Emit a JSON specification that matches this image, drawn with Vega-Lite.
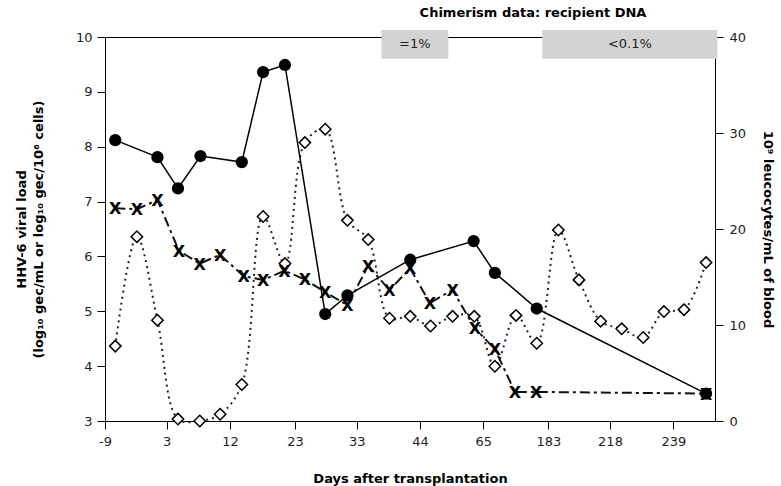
{
  "$schema": "https://vega.github.io/schema/vega-lite/v6.json",
  "width": 610,
  "height": 384,
  "autosize": {"type": "none"},
  "padding": {"left": 105, "top": 37, "right": 66, "bottom": 65},
  "config": {
    "font": "DejaVu Sans",
    "view": {"stroke": "black", "strokeWidth": 1},
    "axis": {
      "grid": false,
      "domainColor": "black",
      "tickColor": "black",
      "labelColor": "#222",
      "labelFontSize": 13,
      "titleFontSize": 13,
      "titleFontWeight": "bold",
      "titleColor": "black",
      "tickSize": 8,
      "labelPadding": 5
    }
  },
  "title": {
    "text": "Chimerism data: recipient DNA",
    "fontSize": 13,
    "fontWeight": "bold",
    "color": "black",
    "anchor": "middle",
    "frame": "group",
    "dx": 123,
    "offset": 10
  },
  "datasets": {
    "circles": [
      {"day": -7, "v": 8.12}, {"day": 1.2, "v": 7.81}, {"day": 4.6, "v": 7.24},
      {"day": 7.8, "v": 7.83}, {"day": 14, "v": 7.72}, {"day": 17.6, "v": 9.36},
      {"day": 21.3, "v": 9.49}, {"day": 27.9, "v": 4.95}, {"day": 31.5, "v": 5.29},
      {"day": 42.3, "v": 5.94}, {"day": 61.8, "v": 6.28}, {"day": 86, "v": 5.7},
      {"day": 162, "v": 5.05}, {"day": 255.5, "v": 3.5}
    ],
    "crosses": [
      {"day": -7, "v": 6.88}, {"day": -2.8, "v": 6.86}, {"day": 1.2, "v": 7.03},
      {"day": 4.75, "v": 6.1}, {"day": 7.7, "v": 5.87}, {"day": 10.6, "v": 6.03},
      {"day": 14.3, "v": 5.64}, {"day": 17.6, "v": 5.57}, {"day": 21.2, "v": 5.74},
      {"day": 24.6, "v": 5.58}, {"day": 27.9, "v": 5.35}, {"day": 31.5, "v": 5.11},
      {"day": 35, "v": 5.83}, {"day": 38.7, "v": 5.39}, {"day": 42.3, "v": 5.78},
      {"day": 47.3, "v": 5.15}, {"day": 54.8, "v": 5.39}, {"day": 62.2, "v": 4.69},
      {"day": 86, "v": 4.31}, {"day": 122.5, "v": 3.53}, {"day": 161, "v": 3.53},
      {"day": 255.5, "v": 3.5}
    ],
    "diamonds": [
      {"day": -7, "leuk": 7.8}, {"day": -2.8, "leuk": 19.2}, {"day": 1.2, "leuk": 10.5},
      {"day": 4.6, "leuk": 0.2}, {"day": 7.7, "leuk": 0.0}, {"day": 10.6, "leuk": 0.7},
      {"day": 14, "leuk": 3.8}, {"day": 17.6, "leuk": 21.3}, {"day": 21.3, "leuk": 16.4},
      {"day": 24.6, "leuk": 29.0}, {"day": 27.9, "leuk": 30.4}, {"day": 31.5, "leuk": 20.9},
      {"day": 35, "leuk": 18.9}, {"day": 38.7, "leuk": 10.7}, {"day": 42.3, "leuk": 10.9},
      {"day": 47.5, "leuk": 9.9}, {"day": 54.8, "leuk": 10.9}, {"day": 62, "leuk": 10.9},
      {"day": 86, "leuk": 5.7}, {"day": 124.4, "leuk": 11.0}, {"day": 162, "leuk": 8.1},
      {"day": 188.7, "leuk": 19.9}, {"day": 200.4, "leuk": 14.7}, {"day": 212.7, "leuk": 10.4},
      {"day": 221.9, "leuk": 9.6}, {"day": 229, "leuk": 8.7}, {"day": 235.9, "leuk": 11.4},
      {"day": 244.4, "leuk": 11.6}, {"day": 255.5, "leuk": 16.5}
    ],
    "chimBoxes": [
      {"day": 37.3, "day2": 53.4, "v": 9.604, "v2": 10.128},
      {"day": 172.1, "day2": 261.2, "v": 9.604, "v2": 10.128}
    ],
    "chimLabels": [
      {"day": 43.1, "v": 9.878, "label": "=1%"},
      {"day": 224.6, "v": 9.878, "label": "<0.1%"}
    ]
  },
  "encoding": {
    "x": {
      "field": "day",
      "type": "quantitative",
      "scale": {
        "domain": [-9, 3, 12, 23, 33, 44, 65, 183, 218, 239, 260],
        "range": [0, 61.7, 125, 190, 251.7, 315, 378.3, 443.3, 505, 568.3, 610],
        "nice": false,
        "zero": false
      },
      "axis": {
        "values": [-9, 3, 12, 23, 33, 44, 65, 183, 218, 239],
        "labelExpr": "'' + datum.value",
        "labelPadding": 6,
        "titlePadding": 24,
        "labelFlush": false
      },
      "title": "Days after transplantation"
    }
  },
  "layer": [
    {
      "data": {"name": "diamonds"},
      "encoding": {
        "y": {
          "field": "leuk",
          "type": "quantitative",
          "scale": {"domain": [0, 40], "nice": false, "zero": false},
          "axis": {
            "orient": "right",
            "values": [0, 10, 20, 30, 40],
            "labelPadding": 6,
            "titlePadding": 15
          },
          "title": "10⁹ leucocytes/mL of blood"
        }
      },
      "layer": [
        {
          "mark": {"type": "line", "color": "#222", "strokeWidth": 2, "strokeDash": [2, 4], "interpolate": "catmull-rom"}
        },
        {
          "mark": {"type": "point", "shape": "diamond", "size": 130, "filled": true, "fill": "white", "stroke": "black", "strokeWidth": 1.5, "opacity": 1}
        }
      ]
    },
    {
      "encoding": {
        "y": {
          "field": "v",
          "type": "quantitative",
          "scale": {"domain": [3, 10], "nice": false, "zero": false},
          "axis": {
            "orient": "left",
            "values": [3, 4, 5, 6, 7, 8, 9, 10],
            "titlePadding": 30,
            "titleLineHeight": 17
          },
          "title": ["HHV-6 viral load", "(log₁₀ gec/mL or log₁₀ gec/10⁶ cells)"]
        }
      },
      "layer": [
        {
          "data": {"name": "chimBoxes"},
          "mark": {"type": "rect", "color": "#d3d3d3", "clip": false},
          "encoding": {"x2": {"field": "day2"}, "y2": {"field": "v2"}}
        },
        {
          "data": {"name": "chimLabels"},
          "mark": {"type": "text", "fontSize": 13, "color": "#222", "baseline": "middle", "align": "center"},
          "encoding": {"text": {"field": "label"}}
        },
        {
          "data": {"name": "crosses"},
          "mark": {"type": "line", "color": "#111", "strokeWidth": 2, "strokeDash": [10, 4, 3, 4]}
        },
        {
          "data": {"name": "crosses"},
          "mark": {"type": "text", "text": "X", "fontSize": 16, "fontWeight": "bold", "color": "black", "baseline": "middle", "align": "center", "dy": 1}
        },
        {
          "data": {"name": "circles"},
          "mark": {"type": "line", "color": "black", "strokeWidth": 1.5}
        },
        {
          "data": {"name": "circles"},
          "mark": {"type": "point", "shape": "circle", "size": 150, "filled": true, "color": "black", "opacity": 1}
        }
      ]
    }
  ],
  "resolve": {"scale": {"y": "independent"}}
}
